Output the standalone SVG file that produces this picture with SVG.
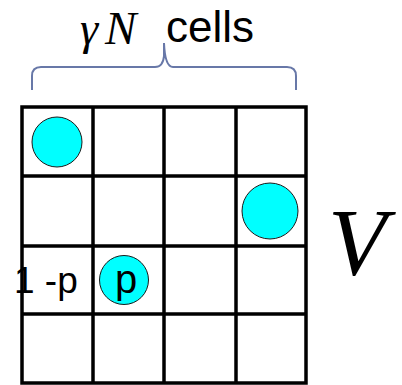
<svg xmlns="http://www.w3.org/2000/svg" width="402" height="385" viewBox="0 0 402 385">
<style>
.grid{stroke:#000;stroke-width:3.5;fill:none}
.ball{fill:#00FFFF;stroke:#1a1a1a;stroke-width:1}
.sans{font-family:"Liberation Sans","DejaVu Sans",sans-serif;fill:#000}
.math{font-family:"Liberation Serif","DejaVu Serif",serif;font-style:italic;fill:#000}
.brace{fill:none;stroke:#6878A8;stroke-width:2}
</style>
<rect width="402" height="385" fill="#fff"/>
<g id="label-top">
<text class="math" x="80" y="44" font-size="46">γ</text>
<text class="math" x="105" y="44" font-size="47">N</text>
<text class="sans" x="166" y="42" font-size="44">cells</text>
</g>
<g id="brace">
<path class="brace" d="M32 90 V76 Q32 67 41 67 H155 Q163 67 164 56 V43 Q165 67 173 67 H287 Q296 67 296 76 V90"/>
</g>
<g id="grid">
<rect class="grid" x="22" y="107" width="284" height="276"/>
<line class="grid" x1="93" y1="107" x2="93" y2="383"/>
<line class="grid" x1="164" y1="107" x2="164" y2="383"/>
<line class="grid" x1="236" y1="107" x2="236" y2="383"/>
<line class="grid" x1="22" y1="176" x2="306" y2="176"/>
<line class="grid" x1="22" y1="246" x2="306" y2="246"/>
<line class="grid" x1="22" y1="314" x2="306" y2="314"/>
</g>
<g id="ball1"><circle class="ball" cx="57" cy="142" r="25"/></g>
<g id="ball2"><circle class="ball" cx="270" cy="211" r="28"/></g>
<g id="ball3"><circle class="ball" cx="124" cy="280" r="24.5"/>
<text class="sans" x="115" y="293" font-size="40">p</text></g>
<g id="label-1p"><text class="sans" x="14" y="293" font-size="37">1 -p</text></g>
<g id="label-V"><text class="math" x="328" y="275" font-size="96">V</text></g>
</svg>
